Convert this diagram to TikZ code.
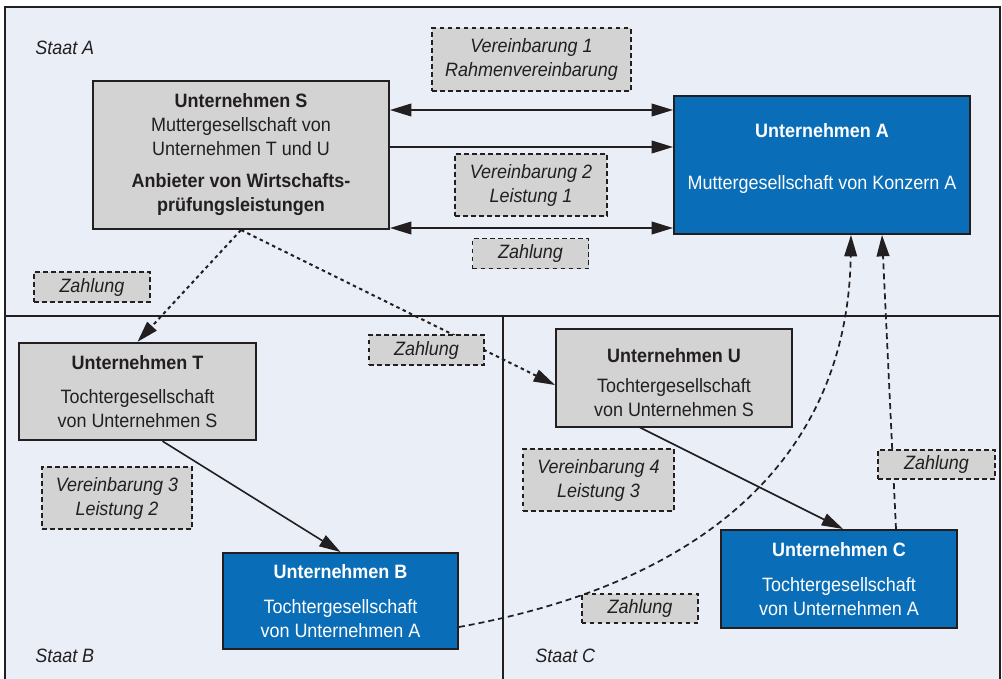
\documentclass[tikz,border=0pt]{standalone}
\usepackage{fontspec}
\setmainfont[FakeStretch=0.93]{Liberation Sans}
\usetikzlibrary{arrows.meta,calc}
\definecolor{bgblue}{RGB}{234,238,247}
\definecolor{boxgray}{RGB}{211,211,212}
\definecolor{firmblue}{RGB}{10,109,183}
\definecolor{inkline}{RGB}{35,31,32}

\begin{document}
\begin{tikzpicture}[x=0.75pt,y=0.75pt,yscale=-1,xscale=1,
    every node/.style={font=\fontsize{14.5}{18}\selectfont,inner sep=0pt,align=center},
    greyfirm/.style={draw=inkline,line width=1.5pt,fill=boxgray,text=inkline},
    bluefirm/.style={draw=inkline,line width=1.5pt,fill=firmblue,text=white},
    deal/.style={draw=inkline,line width=1.3pt,dash pattern=on 3.5pt off 2.5pt,fill=boxgray,text=inkline,font=\fontsize{14.5}{18}\selectfont\itshape},
    tip/.style={-{Triangle[length=16pt,width=9.5pt]}},
    twotip/.style={{Triangle[length=16pt,width=9.5pt]}-{Triangle[length=16pt,width=9.5pt]}},
    link/.style={draw=inkline,line width=1.2pt},
    pay/.style={link,line width=1.5pt,dash pattern=on 2.6pt off 2.6pt},
    dpay/.style={link,line width=1.3pt,dash pattern=on 4.5pt off 3pt}]
    \useasboundingbox (0,0) rectangle (1002,678);

    %Shape: Rectangle
    \draw [line width=2pt,draw=inkline,fill=bgblue] (5,7) rectangle (1000,684) ;
    %Straight Lines
    \draw [line width=1.5pt,draw=inkline] (5,316) -- (1000,316) ;
    \draw [line width=1.5pt,draw=inkline] (503,316) -- (503,684) ;

    %Staaten
    \node [anchor=west,font=\fontsize{14.5}{18}\selectfont\itshape,text=inkline] (sa) at (35,48) {Staat A};
    \node [anchor=west,font=\fontsize{14.5}{18}\selectfont\itshape,text=inkline] (sb) at (35,656) {Staat B};
    \node [anchor=west,font=\fontsize{14.5}{18}\selectfont\itshape,text=inkline] (sc) at (535,656) {Staat C};

    %Unternehmen
    \node [greyfirm,minimum width=222pt,minimum height=111pt] (S) at (241,155) {\textbf{Unternehmen S}\\Muttergesellschaft von\\Unternehmen T und U\\[6pt]\textbf{Anbieter von Wirtschafts-}\\\textbf{prüfungsleistungen}};
    \node [bluefirm,minimum width=222pt,minimum height=103.5pt] (A) at (822,165) {\textbf{Unternehmen A}\\[21pt]Muttergesellschaft von Konzern A\\[-4.5pt]\mbox{}};
    \node [greyfirm,minimum width=178pt,minimum height=73pt] (T) at (137.5,391.5) {\textbf{Unternehmen T}\\[8pt]Tochtergesellschaft\\von Unternehmen S};
    \node [greyfirm,minimum width=177pt,minimum height=73.5pt] (U) at (674,377.5) {\mbox{}\\\textbf{Unternehmen U}\\[5pt]Tochtergesellschaft\\von Unternehmen S};
    \node [bluefirm,minimum width=176pt,minimum height=72pt] (B) at (340.5,601) {\textbf{Unternehmen B}\\[8pt]Tochtergesellschaft\\von Unternehmen A};
    \node [bluefirm,minimum width=177pt,minimum height=73.5pt] (C) at (839,579) {\textbf{Unternehmen C}\\[8pt]Tochtergesellschaft\\von Unternehmen A};

    %Straight Lines
    \draw [link,twotip] (S.east |- 0,110) -- (A.west |- 0,110) ;
    \draw [link,tip] (S.east |- 0,147) -- (A.west |- 0,147) ;
    \draw [link,twotip] (S.east |- 0,228) -- (A.west |- 0,228) ;
    \draw [pay,tip] (S.south) -- (T.north) ;
    \draw [pay,tip] (S.south) -- (U.west |- 0,385) ;
    \draw [link,tip] ($(T.south)+(25,0)$) -- (B.north) ;
    \draw [link,tip] ($(U.south)+(-34,0)$) -- ($(C.north)+(4,0)$) ;
    %Curve Lines
    \draw [dpay,tip] ($(B.east)+(0,26)$) .. controls (720,580) and (848,445) .. ($(A.south)+(29,0)$) ;
    \draw [dpay,tip] ($(C.north)+(57,0)$) -- ($(A.south)+(60,0)$) ;

    %Vereinbarungen
    \node [deal,minimum width=149pt,minimum height=47pt] (v1) at (531.5,59.5) {Vereinbarung 1\\Rahmenvereinbarung};
    \node [deal,minimum width=114pt,minimum height=46.5pt] (v2) at (531,185) {Vereinbarung 2\\Leistung 1};
    \node [deal,minimum width=112.5pt,minimum height=46.5pt] (v3) at (117,498) {Vereinbarung 3\\Leistung 2};
    \node [deal,minimum width=113pt,minimum height=46.5pt] (v4) at (598.5,480) {Vereinbarung 4\\Leistung 3};
    %Zahlungen
    \node [deal,minimum width=87pt,minimum height=22.5pt] (z1) at (530.5,253.5) {Zahlung};
    \node [deal,minimum width=87pt,minimum height=22.5pt] (z2) at (92,287) {Zahlung};
    \node [deal,minimum width=86pt,minimum height=22.5pt] (z3) at (426.5,350) {Zahlung};
    \node [deal,minimum width=87.5pt,minimum height=22pt] (z4) at (936.5,464.5) {Zahlung};
    \node [deal,minimum width=87.5pt,minimum height=22pt] (z5) at (640,608.5) {Zahlung};

\end{tikzpicture}
\end{document}
